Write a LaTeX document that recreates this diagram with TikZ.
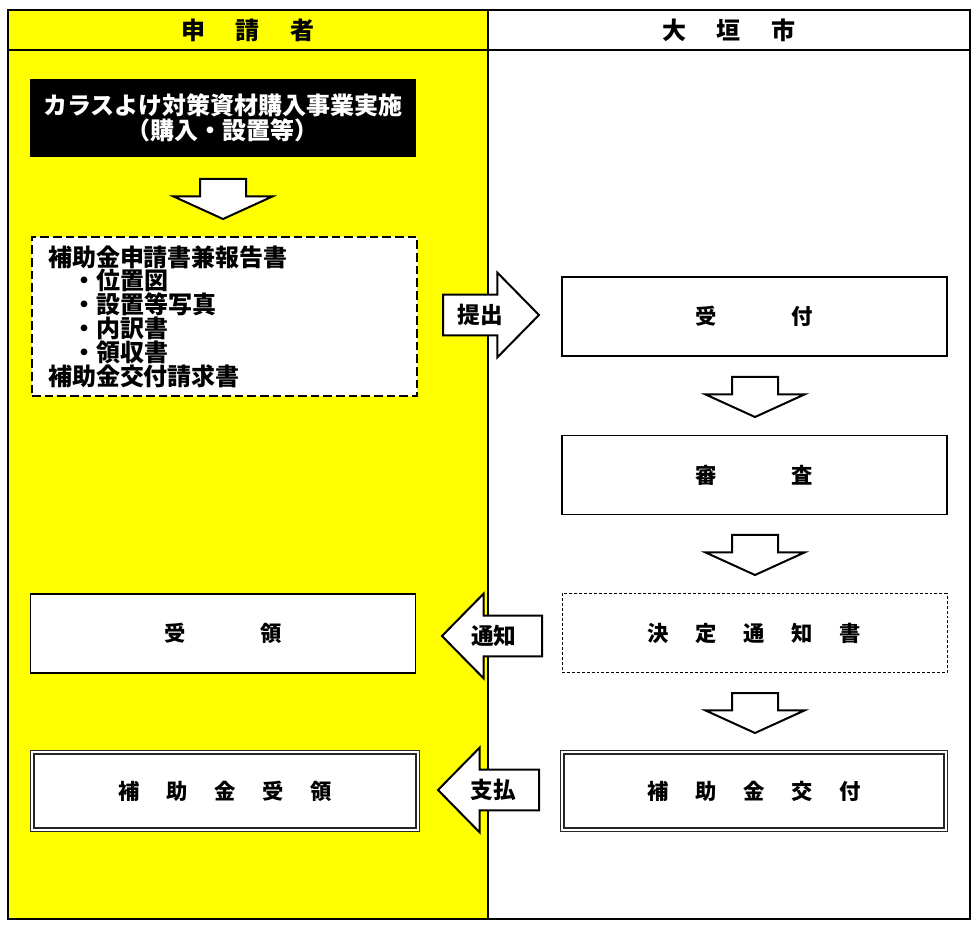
\documentclass[tikz,border=0pt]{standalone}
\usepackage{fontspec}
\setmainfont{Noto Sans CJK JP}
\usepackage{xcolor}
\usepackage{tikz}
\usetikzlibrary{shapes.arrows}

\definecolor{applicantyellow}{RGB}{255,255,0}

\tikzset{
  header/.style={font=\bfseries\fontsize{18pt}{18pt}\selectfont},
  box/.style={rectangle, draw, line width=0.8pt, fill=white, minimum width=288.75pt, minimum height=59.25pt, inner sep=0pt, font=\bfseries\fontsize{16pt}{16pt}\selectfont},
  blackbox/.style={rectangle, fill=black, text=white, minimum width=289.5pt, minimum height=58.5pt, inner sep=0pt, align=center, font=\bfseries\fontsize{18pt}{19pt}\selectfont},
  dashbox/.style={rectangle, draw, line width=1.5pt, dash pattern=on 6.5pt off 3pt, fill=white, minimum width=288.75pt, minimum height=119.25pt, inner xsep=12pt, inner ysep=0pt, text width=264.75pt, align=left, font=\bfseries\fontsize{18pt}{17.85pt}\selectfont},
  thindashbox/.style={box, line width=0.6pt, dash pattern=on 2.2pt off 1.5pt},
  doublebox/.style={box, draw=black!85, line width=1pt, double=white, double distance=1.5pt, minimum height=58pt},
  blockarrow/.style={single arrow, draw, fill=white, line width=1.5pt, single arrow head extend=16.5pt, single arrow tip angle=91, inner xsep=2pt, inner ysep=14.5pt, minimum width=0pt},
  downarrow/.style={single arrow, draw, fill=white, line width=1.5pt, rotate=-90, single arrow head extend=20pt, single arrow tip angle=131, inner xsep=2pt, inner ysep=16.5pt, minimum height=30pt, minimum width=0pt},
  arrowlabel/.style={font=\bfseries\fontsize{17pt}{17pt}\selectfont}
}

\begin{document}
\begin{tikzpicture}[x=0.75pt, y=-0.75pt]
  \useasboundingbox (0,0) rectangle (976,927);
  % two columns
  \fill [applicantyellow] (8,10) rectangle (488,919);
  \draw [line width=0.8pt] (8,10) rectangle (970,919);
  \draw [line width=0.8pt] (8,50) -- (970,50);
  \draw [line width=0.8pt] (488,10) -- (488,919);
  \node (applicant) at (248,30) [header] {申\hspace{23pt}請\hspace{23pt}者};
  \node (city) at (729,30) [header] {大\hspace{23pt}垣\hspace{23pt}市};
  % applicant side
  \node (implement) at (223,118) [blackbox] {カラスよけ対策資材購入事業実施\\（購入・設置等）};
  \node (down1) at (223,178) [downarrow, anchor=tail] {};
  \node (documents) at (224.5,316.5) [dashbox] {補助金申請書兼報告書\\\hspace*{1em}・位置図\\\hspace*{1em}・設置等写真\\\hspace*{1em}・内訳書\\\hspace*{1em}・領収書\\補助金交付請求書};
  \node (receipt) at (223,633.5) [box] {受\hspace{56pt}領};
  \node (grantreceipt) at (225,791) [doublebox, minimum width=289pt] {補\hspace{20pt}助\hspace{20pt}金\hspace{20pt}受\hspace{20pt}領};
  % city side
  \node (reception) at (754.5,316.5) [box] {受\hspace{56pt}付};
  \node (down2) at (755,376) [downarrow, anchor=tail] {};
  \node (review) at (754.5,475) [box] {審\hspace{56pt}査};
  \node (down3) at (755,534) [downarrow, anchor=tail] {};
  \node (decision) at (754.5,633) [thindashbox] {決\hspace{20pt}定\hspace{20pt}通\hspace{20pt}知\hspace{20pt}書};
  \node (down4) at (755,692) [downarrow, anchor=tail] {};
  \node (grant) at (754,791) [doublebox, minimum width=287.5pt] {補\hspace{20pt}助\hspace{20pt}金\hspace{20pt}交\hspace{20pt}付};
  % between the columns
  \node (submit) at (442,315) [blockarrow, minimum height=72pt, anchor=tail, label={[arrowlabel, xshift=-0.5pt]center:提出}] {};
  \node (notify) at (543,636) [blockarrow, minimum height=75pt, shape border rotate=180, anchor=tail, label={[arrowlabel, xshift=-6pt]center:通知}] {};
  \node (pay) at (540,790) [blockarrow, minimum height=75.75pt, shape border rotate=180, anchor=tail, label={[arrowlabel, xshift=-4pt]center:支払}] {};
\end{tikzpicture}
\end{document}
